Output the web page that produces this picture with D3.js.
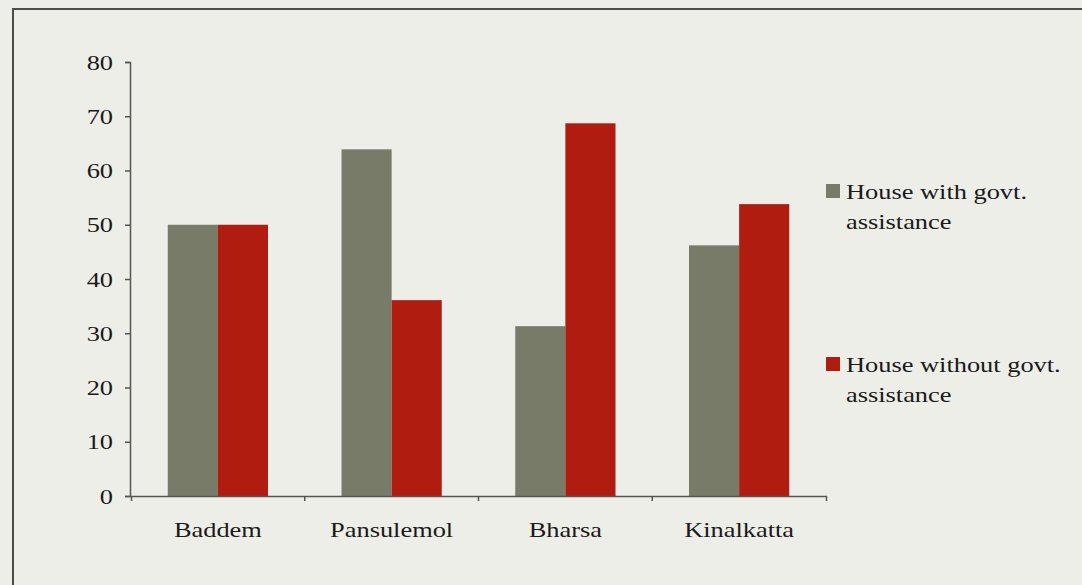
<!DOCTYPE html>
<html>
<head>
<meta charset="utf-8">
<script src="https://cdn.jsdelivr.net/npm/d3@7/dist/d3.min.js"></script>
<style>
  html, body { margin: 0; padding: 0; background: #eeeee8; }
  svg { display: block; }
  text { font-family: "Liberation Serif", "Times New Roman", serif; fill: #1a1a1a; }
</style>
</head>
<body>
<svg id="chart" width="1082" height="585"></svg>
<script>
// Villages surveyed
const villages = ["Baddem", "Pansulemol", "Bharsa", "Kinalkatta"];
// Share of houses (%) built with and without government assistance
const withAssistance = [50, 63.9, 31.3, 46.2];
const withoutAssistance = [50, 36.1, 68.7, 53.8];
const seriesNames = ["House with govt. assistance", "House without govt. assistance"];
const seriesColors = ["#777b68", "#b01c10"];
const yTicks = [0, 10, 20, 30, 40, 50, 60, 70, 80];

(function () {
  const svg = d3.select("#chart");
  const W = 1082, H = 585;
  const FONT = 22, STRETCH = 1.2;

  // frame
  svg.append("rect")
    .attr("x", 13).attr("y", 9)
    .attr("width", W + 20).attr("height", H + 20)
    .attr("fill", "#eeeee8")
    .attr("stroke", "#4d4d4d").attr("stroke-width", 2);

  const plotLeft = 130, plotRight = 825, plotTop = 62, plotBottom = 496;

  const x = d3.scaleBand().domain(villages)
    .range([plotLeft + 1, plotRight + 1]).paddingInner(0.423).paddingOuter(0.2115);
  const xs = d3.scaleBand().domain([0, 1]).range([0, x.bandwidth()]).padding(0);
  const y = d3.scaleLinear().domain([0, 80]).range([plotBottom, plotTop]);

  const rows = villages.map((v, i) => ({ v, vals: [withAssistance[i], withoutAssistance[i]] }));

  // bars
  const groups = svg.append("g").selectAll("g").data(rows).join("g")
    .attr("transform", d => `translate(${x(d.v)},0)`);
  groups.selectAll("rect").data(d => d.vals.map((val, k) => ({ val, k })))
    .join("rect")
    .attr("x", d => xs(d.k))
    .attr("width", xs.bandwidth())
    .attr("y", d => y(d.val))
    .attr("height", d => y(0) - y(d.val))
    .attr("fill", d => seriesColors[d.k]);

  // y axis
  const yAxis = svg.append("g").attr("transform", `translate(${plotLeft},0)`)
    .call(d3.axisLeft(y).tickValues(yTicks).tickSize(5).tickSizeOuter(5).tickPadding(12));
  yAxis.selectAll("path, line").attr("stroke", "#555").attr("stroke-width", 1.5);
  yAxis.selectAll("text")
    .style("font-size", FONT + "px")
    .attr("fill", "#1a1a1a")
    .attr("x", -17 / STRETCH)
    .attr("transform", `scale(${STRETCH},1)`);

  // x axis with ticks at category boundaries
  const xAxis = svg.append("g").attr("transform", `translate(0,${plotBottom})`)
    .call(d3.axisBottom(x).tickSize(0).tickSizeOuter(5).tickPadding(0));
  xAxis.select(".domain").attr("stroke", "#555").attr("stroke-width", 1.5);
  xAxis.selectAll(".tick text")
    .style("font-size", FONT + "px")
    .attr("fill", "#1a1a1a")
    .attr("y", 41).attr("dy", null)
    .attr("transform", `scale(${STRETCH},1)`);
  const bounds = villages.slice(1).map(v => x(v) - x.step() * x.paddingInner() / 2);
  xAxis.selectAll(".bound").data(bounds).join("line")
    .attr("class", "bound")
    .attr("x1", d => d).attr("x2", d => d)
    .attr("y1", 0).attr("y2", 5)
    .attr("stroke", "#555").attr("stroke-width", 1.5);

  // legend
  const legendRows = [
    { k: 0, lines: ["House with govt.", "assistance"], y0: 184 },
    { k: 1, lines: ["House without govt.", "assistance"], y0: 357 }
  ];
  const lg = svg.append("g").selectAll("g").data(legendRows).join("g")
    .attr("transform", d => `translate(826,${d.y0})`);
  lg.append("rect")
    .attr("width", 14).attr("height", 14)
    .attr("fill", d => seriesColors[d.k]);
  lg.each(function (d) {
    const g = d3.select(this);
    d.lines.forEach((line, i) => {
      g.append("text")
        .attr("transform", `translate(20,${15 + i * 30}) scale(${STRETCH},1)`)
        .style("font-size", FONT + "px")
        .text(line);
    });
  });
})();
</script>
</body>
</html>
